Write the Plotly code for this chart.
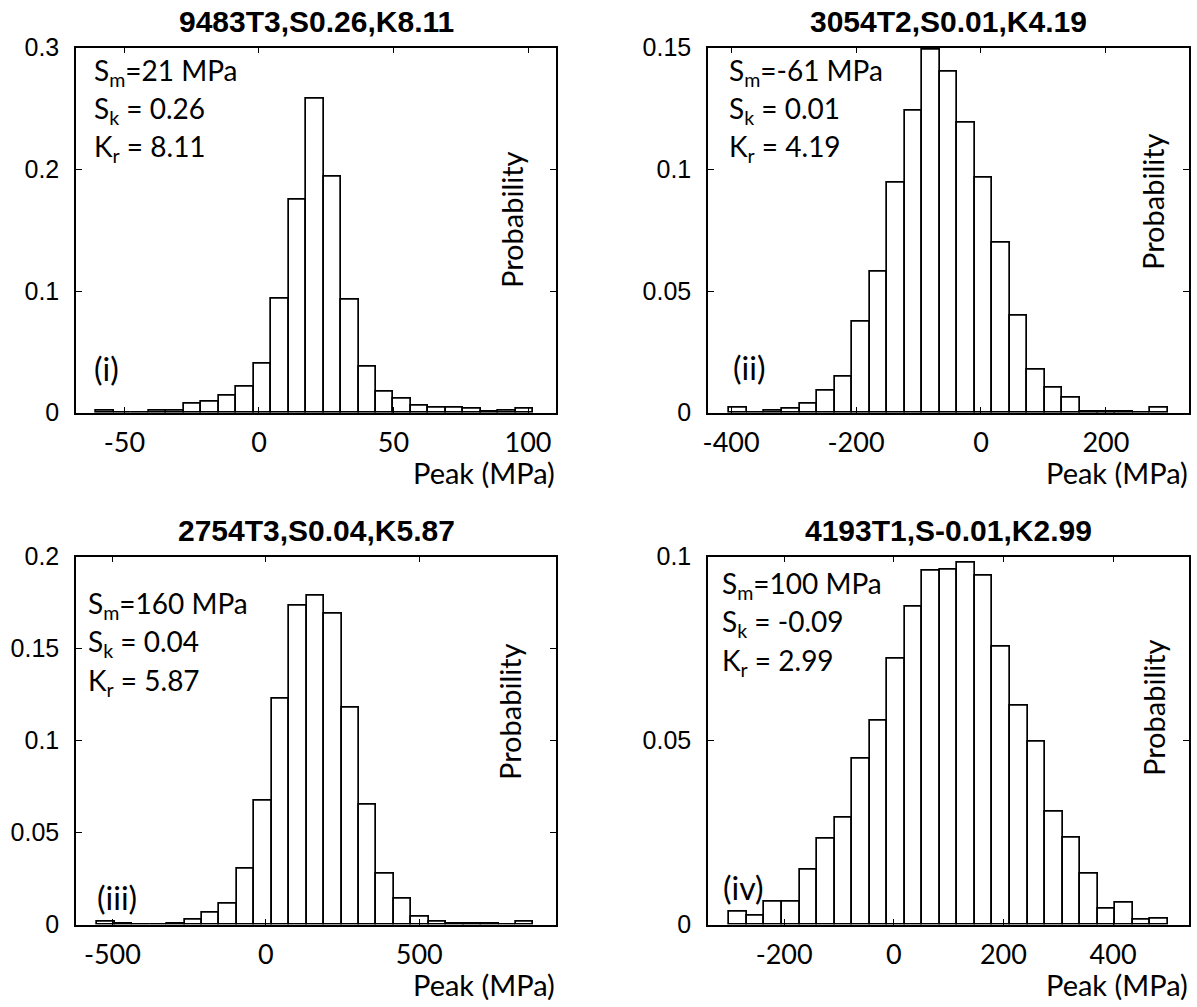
import numpy as np
import plotly.graph_objects as go

W, H = 1197, 1007

# ---------------- data ----------------
titles = ["9483T3,S0.26,K8.11", "3054T2,S0.01,K4.19",
          "2754T3,S0.04,K5.87", "4193T1,S-0.01,K2.99"]
panel_tags = ["(i)", "(ii)", "(iii)", "(iv)"]
stat_mean = ["21 MPa", "-61 MPa", "160 MPa", "100 MPa"]
stat_skew = ["0.26", "0.01", "0.04", "-0.09"]
stat_kurt = ["8.11", "4.19", "5.87", "2.99"]

# histogram bin layout (first edge, bin width) for each panel
bin_start = [-60.5, -402.7, -549.0, -300.0]
bin_width = [6.5, 28.06, 56.85, 32.0]

prob_i = [0.0016, 0, 0, 0.0016, 0.0016, 0.0077, 0.0093, 0.014, 0.021, 0.040,
          0.094, 0.175, 0.258, 0.194, 0.093, 0.038, 0.017, 0.0115, 0.0055, 0.0038,
          0.0044, 0.0033, 0.0008, 0.0016, 0.0033]
prob_ii = [0.0022, 0, 0.0008, 0.0016, 0.0038, 0.0089, 0.0149, 0.0375, 0.058, 0.0944,
           0.124, 0.149, 0.140, 0.119, 0.0966, 0.0699, 0.0399, 0.0175, 0.0103, 0.006,
           0.0005, 0.0005, 0.0005, 0, 0.0022]
prob_iii = [0.0016, 0.0004, 0, 0, 0.0007, 0.0027, 0.0062, 0.0112, 0.0306, 0.0673,
            0.123, 0.1732, 0.1788, 0.1692, 0.1179, 0.0649, 0.0274, 0.014, 0.0044, 0.0016,
            0.0007, 0.0004, 0.0004, 0, 0.0016]
prob_iv = [0.0036, 0.0024, 0.0061, 0.0061, 0.0148, 0.0234, 0.0291, 0.0450, 0.0554, 0.0722,
           0.0865, 0.0963, 0.0966, 0.0985, 0.0949, 0.0754, 0.0595, 0.0497, 0.0306, 0.0235,
           0.0138, 0.0042, 0.0059, 0.0012, 0.0015]
probs = [prob_i, prob_ii, prob_iii, prob_iv]

x_ranges = [[-68, 110.4], [-437, 333], [-618.6, 945.6], [-339, 538.6]]
y_ranges = [[0, 0.3], [0, 0.15], [0, 0.2], [0, 0.1]]
x_ticks = [[-50, 0, 50, 100], [-400, -200, 0, 200], [-500, 0, 500], [-200, 0, 200, 400]]
y_ticks = [[0, 0.1, 0.2, 0.3], [0, 0.05, 0.1, 0.15], [0, 0.05, 0.1, 0.15, 0.2], [0, 0.05, 0.1]]
y_tick_text = [["0", "0.1", "0.2", "0.3"], ["0", "0.05", "0.1", "0.15"],
               ["0", "0.05", "0.1", "0.15", "0.2"], ["0", "0.05", "0.1"]]

# ---------------- layout geometry (pixels) ----------------
cols = [(76, 556), (708, 1189)]
rows = [(47.7, 412.7), (556.7, 924.5)]

def px(x):
    return x / W

def py(y):
    return 1 - y / H

fig = go.Figure()
layout = dict(width=W, height=H, margin=dict(l=0, r=0, t=0, b=0, pad=0, autoexpand=False),
              paper_bgcolor="white", plot_bgcolor="white", showlegend=False)
annotations = []

SANS = "Lato"
ARIAL = "Liberation Sans"

# positions of in-plot text
stat_left = [92, 727, 86, 720]
stat_top = [71.7, 71.7, 605, 585]
tag_pos = [(92, 368), (731, 367), (95, 897), (721, 887)]
prob_pos = [(512, 220), (1153, 202), (509, 712), (1153, 708)]

for i in range(4):
    r, c = divmod(i, 2)
    x0, x1 = cols[c]
    y0, y1 = rows[r]
    sfx = "" if i == 0 else str(i + 1)
    edges0 = bin_start[i] + bin_width[i] * np.arange(len(probs[i]))
    centers = edges0 + bin_width[i] / 2
    fig.add_trace(go.Bar(x=centers, y=probs[i], width=bin_width[i],
                         marker=dict(color="white", line=dict(color="black", width=1.7)),
                         xaxis="x" + sfx, yaxis="y" + sfx, hoverinfo="skip"))
    layout["xaxis" + sfx] = dict(domain=[px(x0), px(x1)], anchor="y" + sfx,
                                  range=x_ranges[i], tickvals=x_ticks[i],
                                  ticktext=[str(v) for v in x_ticks[i]],
                                  ticks="inside", ticklen=6, tickwidth=1, tickcolor="black",
                                  showline=True, linecolor="black", linewidth=1.5, mirror="ticks",
                                  showgrid=False, zeroline=False, automargin=False,
                                  tickfont=dict(family=SANS, size=27, color="black"),
                                  ticklabelstandoff=5)
    layout["yaxis" + sfx] = dict(domain=[py(y1), py(y0)], anchor="x" + sfx,
                                  range=y_ranges[i], tickvals=y_ticks[i], ticktext=y_tick_text[i],
                                  ticks="inside", ticklen=6, tickwidth=1, tickcolor="black",
                                  showline=True, linecolor="black", linewidth=1.5, mirror="ticks",
                                  showgrid=False, zeroline=False, automargin=False,
                                  tickfont=dict(family=ARIAL, size=25, color="black"),
                                  ticklabelstandoff=10)
    # title
    annotations.append(dict(text="<b>" + titles[i] + "</b>", x=px((x0 + x1) / 2), y=py(y0 - 26),
                            xref="paper", yref="paper", xanchor="center", yanchor="middle",
                            showarrow=False, font=dict(family=ARIAL, size=30, color="black")))
    # stats
    lines = ["S<sub>m</sub>=" + stat_mean[i], "S<sub>k</sub> = " + stat_skew[i],
             "K<sub>r</sub> = " + stat_kurt[i]]
    for k, t in enumerate(lines):
        annotations.append(dict(text=t, x=px(stat_left[i]), y=py(stat_top[i] + 38.3 * k),
                                xref="paper", yref="paper", xanchor="left", yanchor="middle",
                                showarrow=False, font=dict(family=SANS, size=28, color="black")))
    # panel tag
    annotations.append(dict(text=panel_tags[i], x=px(tag_pos[i][0]), y=py(tag_pos[i][1]),
                            xref="paper", yref="paper", xanchor="left", yanchor="middle",
                            showarrow=False, font=dict(family=SANS, size=32, color="black")))
    # Probability label
    annotations.append(dict(text="Probability", x=px(prob_pos[i][0]), y=py(prob_pos[i][1]),
                            xref="paper", yref="paper", xanchor="center", yanchor="middle",
                            textangle=-90, showarrow=False,
                            font=dict(family=SANS, size=29, color="black")))
    # x label
    annotations.append(dict(text="Peak (MPa)", x=px(x1 + 1), y=py(y1 + 59.5),
                            xref="paper", yref="paper", xanchor="right", yanchor="middle",
                            showarrow=False, font=dict(family=SANS, size=29, color="black")))

layout["annotations"] = annotations
layout["bargap"] = 0
fig.update_layout(**layout)
fig.write_html("out.html")
